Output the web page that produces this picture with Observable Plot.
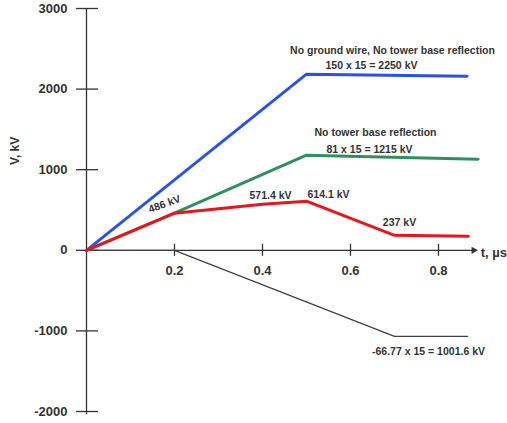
<!DOCTYPE html>
<html><head><meta charset="utf-8">
<script src="https://cdn.jsdelivr.net/npm/d3@7"></script>
<script src="https://cdn.jsdelivr.net/npm/@observablehq/plot@0.6"></script>
<style>body{margin:0;background:#fff} svg{display:block}</style>
</head><body><div id="chart"></div>
<script>
// Series (t in µs, V in kV)
const tBlue  = [0, 0.5, 0.865];
const vBlue  = [0, 2185, 2160];
const tGreen = [0, 0.2, 0.5, 0.89];
const vGreen = [0, 460, 1180, 1130];
const tRed   = [0, 0.2, 0.4, 0.5, 0.7, 0.868];
const vRed   = [0, 460, 571, 610, 186, 175];
const tBlack = [0, 0.2, 0.7, 0.866];
const vBlack = [0, 0, -1068, -1068];

// Axis ticks
const xTicks = [0.2, 0.4, 0.6, 0.8];
const yTicks = [-2000, -1000, 0, 1000, 2000, 3000];
const xAxisEnd = [0.88];
const xLabel = "t, µs";
const yLabel = "V, kV";

// Annotations attached to series points
const blueNotes  = ["No ground wire, No tower base reflection", "150 x 15 = 2250 kV"];
const greenNotes = ["No tower base reflection", "81 x 15 = 1215 kV"];
const redNotes   = ["486 kV", "571.4 kV", "614.1 kV", "237 kV"];
const blackNote  = "-66.77 x 15 = 1001.6 kV";

const mk = (ts, vs) => ts.map((t, i) => ({t, v: vs[i]}));
const blue = mk(tBlue, vBlue), green = mk(tGreen, vGreen), red = mk(tRed, vRed), black = mk(tBlack, vBlack);

const ink = "#333";
const font = {fontFamily: "Liberation Sans, Arial, sans-serif", fontWeight: "bold", fill: ink};
const note = {...font, fontSize: 10.5};

const chart = Plot.plot({
  width: 507, height: 423,
  marginLeft: 86, marginRight: 25, marginTop: 8, marginBottom: 12,
  x: {domain: [0, 0.9], axis: null},
  y: {domain: [-2000, 3000], axis: null},
  style: {background: "#fff", overflow: "visible"},
  marks: [
    // axes
    Plot.ruleX([0], {stroke: ink, strokeWidth: 1.3, insetBottom: -3}),
    Plot.ruleY([0], {x1: 0, x2: xAxisEnd[0], stroke: ink, strokeWidth: 1.3}),
    Plot.dot(xAxisEnd, {x: d => d, y: 0, symbol: "triangle2", rotate: 90, r: 3.5, fill: ink, stroke: "none"}),
    Plot.ruleY(yTicks, {y: d => d, x1: 0, x2: 0, insetLeft: -10, insetRight: -12, stroke: ink, strokeWidth: 1.3}),
    Plot.ruleX(xTicks, {x: d => d, y1: 0, y2: 0, insetTop: -6, insetBottom: -6, stroke: ink, strokeWidth: 1.3}),
    Plot.text(yTicks, {x: 0, y: d => d, text: d => String(d), textAnchor: "end", dx: -19, fontSize: 13, ...font}),
    Plot.text(xTicks, {x: d => d, y: 0, text: d => d.toFixed(1), dy: 21, fontSize: 13, ...font}),
    Plot.text([xLabel], {x: xAxisEnd[0], y: 0, text: d => d, textAnchor: "start", dx: 7, dy: 3, fontSize: 13, ...font}),
    Plot.text([yLabel], {frameAnchor: "left", text: d => d, rotate: -90, dx: -71, dy: -45, fontSize: 12, ...font}),
    // series
    Plot.line(black, {x: "t", y: "v", stroke: "#404040", strokeWidth: 1.3}),
    Plot.line(blue, {x: "t", y: "v", stroke: "#2b52e6", strokeWidth: 3}),
    Plot.line(green, {x: "t", y: "v", stroke: "#2f8f5e", strokeWidth: 3}),
    Plot.line(red, {x: "t", y: "v", stroke: "#e8161c", strokeWidth: 3}),
    // annotations
    Plot.text([blue[1]], {x: "t", y: "v", text: () => blueNotes[0], dx: 86, dy: -24, ...note}),
    Plot.text([blue[1]], {x: "t", y: "v", text: () => blueNotes[1], dx: 65, dy: -9, ...note}),
    Plot.text([green[2]], {x: "t", y: "v", text: () => greenNotes[0], dx: 69, dy: -23, ...note}),
    Plot.text([green[2]], {x: "t", y: "v", text: () => greenNotes[1], dx: 63, dy: -6, ...note}),
    Plot.text([red[1]], {x: "t", y: "v", text: () => redNotes[0], dx: -10, dy: -9, rotate: -20, ...note}),
    Plot.text([red[2]], {x: "t", y: "v", text: () => redNotes[1], dx: 8, dy: -9, ...note}),
    Plot.text([red[3]], {x: "t", y: "v", text: () => redNotes[2], textAnchor: "start", dx: 1, dy: -7, ...note}),
    Plot.text([red[4]], {x: "t", y: "v", text: () => redNotes[3], dx: 5, dy: -13, ...note}),
    Plot.text([black[2]], {x: "t", y: "v", text: () => blackNote, dx: 34, dy: 15, ...note})
  ]
});
document.getElementById("chart").appendChild(chart);
</script>
</body></html>
